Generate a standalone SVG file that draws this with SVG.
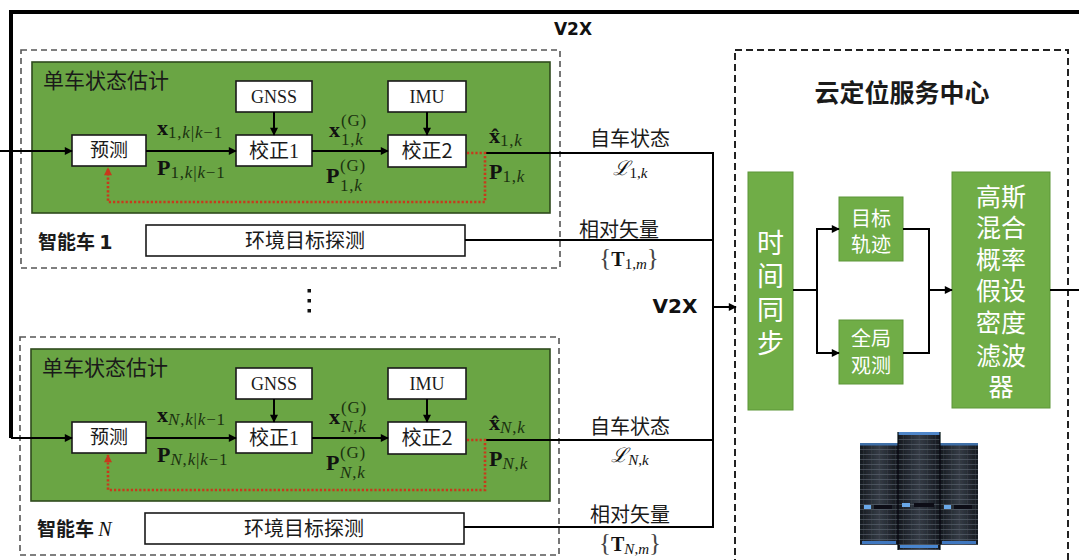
<svg xmlns="http://www.w3.org/2000/svg" width="1079" height="560" viewBox="0 0 1079 560">
  <defs>
    <style>
      .box{fill:#fff;stroke:#1a1a1a;stroke-width:1.6}
      .green{fill:#6aa544;stroke:#2f4a1d;stroke-width:1.6}
      .cg{fill:#70ad47;stroke:#5c9638;stroke-width:1}
      .dash{fill:none;stroke:#555;stroke-width:1.6;stroke-dasharray:6 4}
      .cdash{fill:none;stroke:#222;stroke-width:2;stroke-dasharray:7 4}
      .ln{fill:none;stroke:#000;stroke-width:2}
      .arrow{fill:none;stroke:#000;stroke-width:2;marker-end:url(#arr)}
      .red{fill:none;stroke:#c8391c;stroke-width:2.6;stroke-dasharray:2.2 2}
      .cn{font-family:"Noto Sans CJK SC","Noto Sans",sans-serif;fill:#1a1a1a}
      .wt{font-family:"Noto Sans CJK SC","Noto Sans",sans-serif;fill:#fff;text-anchor:middle}
      .sr{font-family:"Liberation Serif","DejaVu Serif",serif;fill:#1a1a1a}
      .m{font-family:"Liberation Serif","DejaVu Serif",serif;fill:#111}
      .b{font-weight:bold}
      .i{font-style:italic}
      .sub{fill:#1b3210;letter-spacing:0.8px}
      .v2x{font-family:"DejaVu Sans",sans-serif;font-weight:bold;fill:#111;text-anchor:middle}
      .mid{text-anchor:middle}
      .br{fill:#444;font-weight:normal}
    </style>
    <marker id="arr" viewBox="0 0 10 10" refX="9" refY="5" markerWidth="9" markerHeight="8" markerUnits="userSpaceOnUse" orient="auto">
      <path d="M0,0 L10,5 L0,10 z" fill="#000"/>
    </marker>
    <marker id="arrRed" viewBox="0 0 10 10" refX="9" refY="5" markerWidth="9" markerHeight="8" markerUnits="userSpaceOnUse" orient="auto">
      <path d="M0,0 L10,5 L0,10 z" fill="#c8391c"/>
    </marker>
    <linearGradient id="rackG" x1="0" x2="1" y1="0" y2="0">
      <stop offset="0" stop-color="#15191f"/>
      <stop offset="0.5" stop-color="#353c46"/>
      <stop offset="1" stop-color="#15191f"/>
    </linearGradient>
    <pattern id="slots" width="8" height="5" patternUnits="userSpaceOnUse">
      <rect x="0" y="0" width="8" height="5" fill="none"/>
      <line x1="0" y1="4.5" x2="8" y2="4.5" stroke="#6b7582" stroke-width="0.8" opacity="0.6"/>
      <line x1="7.5" y1="0" x2="7.5" y2="5" stroke="#4a525d" stroke-width="0.5" opacity="0.5"/>
    </pattern>
    <filter id="soft" x="-5%" y="-5%" width="110%" height="110%">
      <feGaussianBlur stdDeviation="0.6"/>
    </filter>
  </defs>

  <rect x="0" y="0" width="1079" height="560" fill="#fff"/>

  <!-- ===== vehicle 1 ===== -->
  <g id="vehicle-1">
    <rect class="dash" x="21" y="50" width="539" height="218"/>
    <g id="v1-estimator">
      <rect class="green" x="32" y="62" width="518" height="151"/>
      <text class="cn" x="43" y="88" font-size="21">单车状态估计</text>
    </g>
    <g id="v1-gnss">
      <rect class="box" x="236" y="81" width="76" height="31"/>
      <text class="sr mid" x="274" y="103" font-size="18">GNSS</text>
    </g>
    <g id="v1-imu">
      <rect class="box" x="388" y="81" width="78" height="31"/>
      <text class="sr mid" x="427" y="103" font-size="18">IMU</text>
    </g>
    <g id="v1-predict">
      <rect class="box" x="72" y="135" width="74" height="31"/>
      <text class="cn mid" x="109" y="157" font-size="19">预测</text>
    </g>
    <g id="v1-correct1">
      <rect class="box" x="236" y="135" width="76" height="31"/>
      <text class="cn mid" x="274" y="158" font-size="20">校正<tspan class="sr">1</tspan></text>
    </g>
    <g id="v1-correct2">
      <rect class="box" x="388" y="135" width="78" height="32"/>
      <text class="cn mid" x="427" y="158" font-size="20">校正2</text>
    </g>
    <g id="v1-detect">
      <rect class="box" x="146" y="225" width="319" height="31"/>
      <text class="cn mid" x="305" y="248" font-size="20">环境目标探测</text>
    </g>
    <text class="cn b" x="38" y="249" font-size="19">智能车 <tspan font-family="DejaVu Sans, sans-serif">1</tspan></text>
    <!-- state labels -->
    <text class="m" x="157" y="135"><tspan class="b" font-size="22">x</tspan><tspan class="sub" font-size="17" dy="3">1,<tspan class="i">k</tspan>|<tspan class="i">k</tspan>−1</tspan></text>
    <text class="m" x="157" y="175"><tspan class="b" font-size="22">P</tspan><tspan class="sub" font-size="17" dy="3">1,<tspan class="i">k</tspan>|<tspan class="i">k</tspan>−1</tspan></text>
    <text class="m b" x="329" y="137" font-size="22">x</text>
    <text class="m sub" x="341" y="126" font-size="17">(G)</text>
    <text class="m sub" x="341" y="145" font-size="17">1,<tspan class="i">k</tspan></text>
    <text class="m b" x="326" y="183" font-size="22">P</text>
    <text class="m sub" x="340" y="171" font-size="17">(G)</text>
    <text class="m sub" x="340" y="191" font-size="17">1,<tspan class="i">k</tspan></text>
    <text class="m" x="489" y="143"><tspan class="b" font-size="22">x&#x302;</tspan><tspan class="sub" font-size="17" dy="3">1,<tspan class="i">k</tspan></tspan></text>
    <text class="m" x="489" y="179"><tspan class="b" font-size="22">P</tspan><tspan class="sub" font-size="17" dy="3">1,<tspan class="i">k</tspan></tspan></text>
  </g>

  <!-- dots between vehicles -->
  <g id="ellipsis" fill="#111">
    <rect x="307.5" y="289" width="3.5" height="3.5"/>
    <rect x="307.5" y="299" width="3.5" height="3.5"/>
    <rect x="307.5" y="309" width="3.5" height="3.5"/>
  </g>

  <!-- ===== vehicle N ===== -->
  <g id="vehicle-N">
    <rect class="dash" x="20" y="337" width="539" height="218"/>
    <g id="vN-estimator">
      <rect class="green" x="31" y="349" width="519" height="152"/>
      <text class="cn" x="42" y="375" font-size="21">单车状态估计</text>
    </g>
    <g id="vN-gnss">
      <rect class="box" x="236" y="368" width="76" height="31"/>
      <text class="sr mid" x="274" y="390" font-size="18">GNSS</text>
    </g>
    <g id="vN-imu">
      <rect class="box" x="388" y="368" width="78" height="31"/>
      <text class="sr mid" x="427" y="390" font-size="18">IMU</text>
    </g>
    <g id="vN-predict">
      <rect class="box" x="72" y="422" width="74" height="31"/>
      <text class="cn mid" x="109" y="444" font-size="19">预测</text>
    </g>
    <g id="vN-correct1">
      <rect class="box" x="236" y="422" width="76" height="31"/>
      <text class="cn mid" x="274" y="445" font-size="20">校正<tspan class="sr">1</tspan></text>
    </g>
    <g id="vN-correct2">
      <rect class="box" x="388" y="422" width="78" height="32"/>
      <text class="cn mid" x="427" y="445" font-size="20">校正2</text>
    </g>
    <g id="vN-detect">
      <rect class="box" x="145" y="513" width="319" height="31"/>
      <text class="cn mid" x="304" y="536" font-size="20">环境目标探测</text>
    </g>
    <text class="cn b" x="37" y="536" font-size="19">智能车 <tspan class="m i" font-weight="normal" font-size="20">N</tspan></text>
    <!-- state labels -->
    <text class="m" x="157" y="422"><tspan class="b" font-size="22">x</tspan><tspan class="sub" font-size="17" dy="3"><tspan class="i">N</tspan>,<tspan class="i">k</tspan>|<tspan class="i">k</tspan>−1</tspan></text>
    <text class="m" x="157" y="462"><tspan class="b" font-size="22">P</tspan><tspan class="sub" font-size="17" dy="3"><tspan class="i">N</tspan>,<tspan class="i">k</tspan>|<tspan class="i">k</tspan>−1</tspan></text>
    <text class="m b" x="329" y="424" font-size="22">x</text>
    <text class="m sub" x="341" y="413" font-size="17">(G)</text>
    <text class="m sub" x="341" y="432" font-size="17"><tspan class="i">N</tspan>,<tspan class="i">k</tspan></text>
    <text class="m b" x="326" y="470" font-size="22">P</text>
    <text class="m sub" x="340" y="458" font-size="17">(G)</text>
    <text class="m sub" x="340" y="478" font-size="17"><tspan class="i">N</tspan>,<tspan class="i">k</tspan></text>
    <text class="m" x="489" y="430"><tspan class="b" font-size="22">x&#x302;</tspan><tspan class="sub" font-size="17" dy="3"><tspan class="i">N</tspan>,<tspan class="i">k</tspan></tspan></text>
    <text class="m" x="489" y="466"><tspan class="b" font-size="22">P</tspan><tspan class="sub" font-size="17" dy="3"><tspan class="i">N</tspan>,<tspan class="i">k</tspan></tspan></text>
  </g>

  <!-- ===== cloud positioning service centre ===== -->
  <g id="cloud-center">
    <rect class="cdash" x="735" y="50" width="333" height="530"/>
    <text class="cn b mid" x="902" y="102" font-size="25">云定位服务中心</text>
  </g>
  <g id="time-sync">
    <rect class="cg" x="748" y="172" width="45" height="238"/>
    <text class="wt" font-size="27"><tspan x="770.5" y="253">时</tspan><tspan x="770.5" y="286">间</tspan><tspan x="770.5" y="320">同</tspan><tspan x="770.5" y="353">步</tspan></text>
  </g>
  <g id="target-track">
    <rect class="cg" x="839" y="197" width="64" height="64"/>
    <text class="wt" font-size="20"><tspan x="871" y="226">目标</tspan><tspan x="871" y="252">轨迹</tspan></text>
  </g>
  <g id="global-obs">
    <rect class="cg" x="839" y="320" width="64" height="64"/>
    <text class="wt" font-size="20"><tspan x="871" y="346">全局</tspan><tspan x="871" y="373">观测</tspan></text>
  </g>
  <g id="gmphd-filter">
    <rect class="cg" x="952" y="172" width="98" height="236"/>
    <text class="wt" font-size="25"><tspan x="1001" y="206">高斯</tspan><tspan x="1001" y="237">混合</tspan><tspan x="1001" y="269">概率</tspan><tspan x="1001" y="300">假设</tspan><tspan x="1001" y="332">密度</tspan><tspan x="1001" y="365">滤波</tspan><tspan x="1001" y="396">器</tspan></text>
  </g>
  <g id="server" filter="url(#soft)">
    <rect x="860" y="443" width="38" height="102" fill="url(#rackG)"/>
    <rect x="860" y="443" width="38" height="102" fill="url(#slots)"/>
    <rect x="940" y="443" width="38" height="102" fill="url(#rackG)"/>
    <rect x="940" y="443" width="38" height="102" fill="url(#slots)"/>
    <rect x="898" y="432" width="42" height="118" fill="url(#rackG)"/>
    <rect x="898" y="432" width="42" height="118" fill="url(#slots)"/>
    <rect x="898" y="432" width="42" height="3" fill="#4f86c9"/>
    <rect x="860" y="443" width="38" height="2.5" fill="#3f6fa8"/>
    <rect x="940" y="443" width="38" height="2.5" fill="#3f6fa8"/>
    <rect x="862" y="541" width="34" height="3" fill="#3f78c0"/>
    <rect x="942" y="541" width="34" height="3" fill="#3f78c0"/>
    <rect x="900" y="545" width="38" height="3" fill="#4a86d0"/>
    <rect x="864" y="505" width="7" height="4" fill="#6aa8e8"/>
    <rect x="902" y="503" width="8" height="4" fill="#6aa8e8"/>
    <rect x="944" y="505" width="7" height="4" fill="#6aa8e8"/>
    <rect x="874" y="505" width="18" height="4" fill="#0d1014"/>
    <rect x="914" y="503" width="20" height="4" fill="#0d1014"/>
    <rect x="954" y="505" width="18" height="4" fill="#0d1014"/>
    <line x1="898" y1="432" x2="898" y2="550" stroke="#0b0d10" stroke-width="1.2"/>
    <line x1="940" y1="432" x2="940" y2="550" stroke="#0b0d10" stroke-width="1.2"/>
  </g>

  <!-- link labels -->
  <g id="labels">
    <text class="v2x" x="573" y="35" font-size="17">V2X</text>
    <text class="v2x" x="675" y="313" font-size="20">V2X</text>
    <text class="cn mid" x="630" y="146" font-size="20">自车状态</text>
    <text class="m mid" x="630" y="175" font-size="20"><tspan class="i">ℒ</tspan><tspan font-size="15" dy="3">1,<tspan class="i">k</tspan></tspan></text>
    <text class="cn mid" x="619" y="237" font-size="20">相对矢量</text>
    <text class="m mid" x="629" y="266" font-size="20"><tspan class="br" font-size="25">{</tspan><tspan class="b">T</tspan><tspan font-size="15" dy="3">1,<tspan class="i">m</tspan></tspan><tspan class="br" font-size="25" dy="-3">}</tspan></text>
    <text class="cn mid" x="630" y="434" font-size="20">自车状态</text>
    <text class="m mid" x="630" y="462" font-size="20"><tspan class="i">ℒ</tspan><tspan font-size="15" dy="3"><tspan class="i">N</tspan>,<tspan class="i">k</tspan></tspan></text>
    <text class="cn mid" x="630" y="522" font-size="20">相对矢量</text>
    <text class="m mid" x="630" y="551" font-size="20"><tspan class="br" font-size="25">{</tspan><tspan class="b">T</tspan><tspan font-size="15" dy="3"><tspan class="i">N</tspan>,<tspan class="i">m</tspan></tspan><tspan class="br" font-size="25" dy="-3">}</tspan></text>
  </g>

  <!-- ===== connectors ===== -->
  <g id="connectors">
    <!-- V2X feedback loop -->
    <polyline points="1079,12 11,12 11,438" fill="none" stroke="#000" stroke-width="4"/>
    <line class="arrow" x1="0" y1="151" x2="72" y2="151"/>
    <line class="arrow" x1="11" y1="438" x2="72" y2="438"/>
    <!-- vehicle 1 -->
    <line class="arrow" x1="146" y1="151" x2="236" y2="151"/>
    <line class="arrow" x1="312" y1="151" x2="388" y2="151"/>
    <line class="arrow" x1="274" y1="112" x2="274" y2="135"/>
    <line class="arrow" x1="427" y1="112" x2="427" y2="135"/>
    <polyline class="ln" points="485,153 713,153"/>
    <line class="ln" x1="465" y1="240" x2="713" y2="240"/>
    <polyline class="red" points="467,153 485,153 485,202 108,202 108,168" marker-end="url(#arrRed)"/>
    <!-- vehicle N -->
    <line class="arrow" x1="146" y1="438" x2="236" y2="438"/>
    <line class="arrow" x1="312" y1="438" x2="388" y2="438"/>
    <line class="arrow" x1="274" y1="399" x2="274" y2="422"/>
    <line class="arrow" x1="427" y1="399" x2="427" y2="422"/>
    <polyline class="ln" points="485,440 713,440"/>
    <line class="ln" x1="464" y1="527" x2="713" y2="527"/>
    <polyline class="red" points="467,440 485,440 485,490 108,490 108,455" marker-end="url(#arrRed)"/>
    <!-- uplink bus -->
    <line class="ln" x1="713" y1="152" x2="713" y2="528"/>
    <line class="arrow" x1="713" y1="307" x2="736" y2="307"/>
    <!-- cloud centre -->
    <line class="ln" x1="793" y1="290" x2="817" y2="290"/>
    <polyline class="ln" points="817,229 817,353"/>
    <line class="arrow" x1="816" y1="229" x2="839" y2="229"/>
    <line class="arrow" x1="816" y1="353" x2="839" y2="353"/>
    <line class="ln" x1="903" y1="229" x2="930" y2="229"/>
    <line class="ln" x1="903" y1="353" x2="930" y2="353"/>
    <line class="ln" x1="929" y1="228" x2="929" y2="354"/>
    <line class="arrow" x1="929" y1="290" x2="952" y2="290"/>
    <line class="ln" x1="1050" y1="290" x2="1079" y2="290"/>
  </g>
</svg>
